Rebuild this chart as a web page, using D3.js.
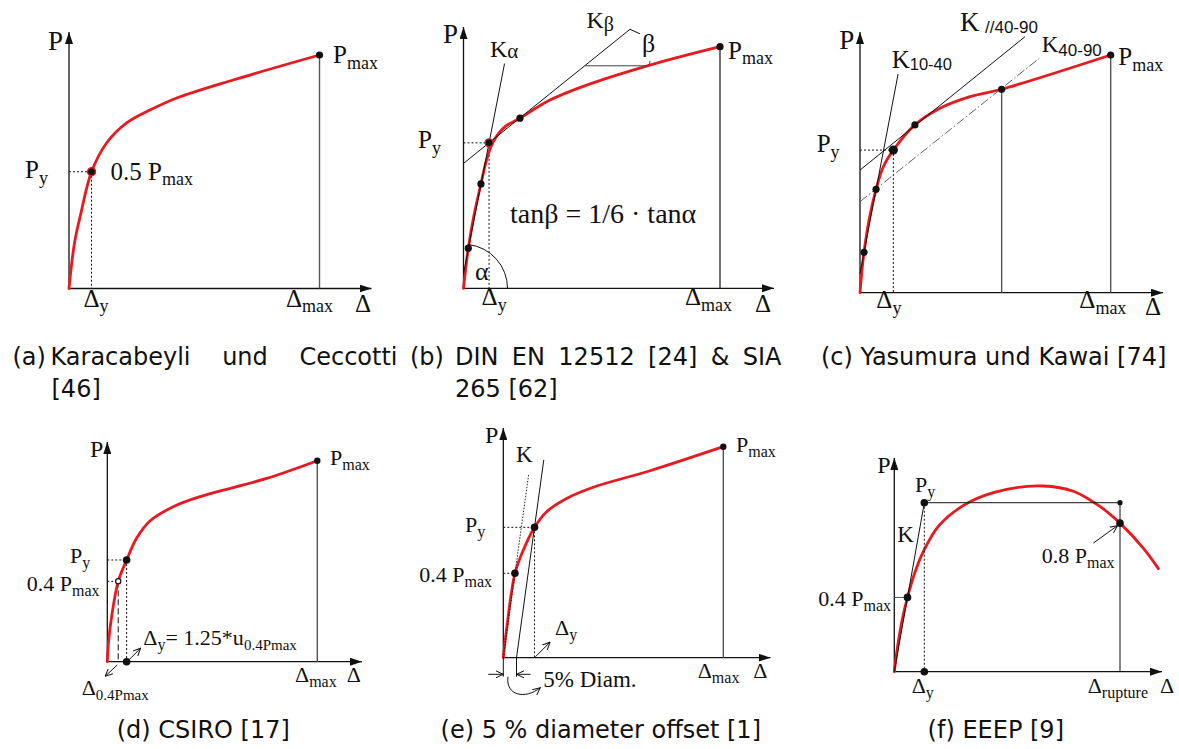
<!DOCTYPE html>
<html>
<head>
<meta charset="utf-8">
<script src="https://cdn.jsdelivr.net/npm/d3@7"></script>
<style>
  body { margin: 0; background: #fff; }
  svg { display: block; }
</style>
</head>
<body>
<svg id="fig" width="1179" height="749"></svg>
<script>
// Load–slip curves, values normalised: x = Δ / Δref, y = P / Pmax

// (a) Karacabeyli & Ceccotti
const curveA = [[0,0],[0.011,0.11],[0.024,0.208],[0.044,0.306],[0.09,0.5],[0.15,0.623],[0.23,0.709],[0.323,0.764],[0.43,0.816],[0.655,0.893],[1,1]];
const yieldA = [0.09, 0.5];
const maxA = [1, 1];

// (b) DIN EN 12512 / SIA 265
const curveB = [[0,0],[0.008,0.076],[0.0187,0.166],[0.041,0.303],[0.068,0.432],[0.09,0.531],[0.116,0.607],[0.162,0.669],[0.22,0.704],[0.337,0.779],[0.48,0.841],[0.727,0.924],[1,1]];
const kAlphaB = [[0,0.06],[0.16,0.93]];
const kBetaB = [[0,0.517],[0.649,1.072]];
const betaRefB = [[0.473,0.921],[0.719,0.921]];
const dotsB = [[0.0187,0.166],[0.068,0.432],[0.22,0.704],[1,1]];
const yieldB = [0.0997, 0.602];
const maxB = [1, 1];

// (c) Yasumura & Kawai
const curveC = [[0,0],[0.006,0.074],[0.016,0.17],[0.036,0.306],[0.064,0.435],[0.093,0.53],[0.133,0.6],[0.219,0.706],[0.319,0.776],[0.439,0.825],[0.565,0.856],[1,1]];
const k1040C = [[0,0.08],[0.152,0.92]];
const kParC = [[0,0.516],[0.658,1.077]];
const k4090C = [[0,0.383],[0.715,0.986]];
const dotsC = [[0.016,0.17],[0.064,0.435],[0.219,0.706],[0.565,0.856],[1,1]];
const yieldC = [0.133, 0.6];
const maxC = [1, 1];

// (d) CSIRO
const curveD = [[0,0],[0.006,0.1],[0.02,0.22],[0.052,0.4],[0.092,0.506],[0.14,0.615],[0.203,0.7],[0.314,0.771],[0.441,0.821],[0.759,0.912],[1,1]];
const p04D = [0.052, 0.4];
const yieldD = [0.092, 0.506];
const maxD = [1, 1];

// (e) 5 % diameter offset
const curveE = [[0,0],[0.0155,0.14],[0.053,0.4],[0.091,0.51],[0.142,0.618],[0.197,0.692],[0.288,0.755],[0.409,0.808],[0.667,0.886],[1,1]];
const kE = [[0,0],[0.115,0.866]];
const offsetE = [[0.06,0],[0.184,0.937]];
const p04E = [0.053, 0.4];
const yieldE = [0.142, 0.618];
const maxE = [1, 1];

// (f) EEEP (x relative to Δrupture)
const curveF = [[0,0],[0.015,0.14],[0.035,0.28],[0.0585,0.4],[0.09,0.53],[0.128,0.645],[0.2,0.79],[0.335,0.915],[0.498,0.982],[0.66,1.0],[0.793,0.972],[0.911,0.89],[1.0,0.8],[1.103,0.665],[1.17,0.555]];
const eeepF = [[0,0],[0.133,0.91],[1,0.91]];
const p04F = [0.0585, 0.4];
const p08F = [1, 0.8];

// captions
const captionA = ["(a)", "Karacabeyli und Ceccotti", "[46]"];
const captionB = ["(b)", "DIN EN 12512 [24] & SIA", "265 [62]"];
const captionC = ["(c) Yasumura und Kawai [74]"];
const captionD = ["(d) CSIRO [17]"];
const captionE = ["(e) 5 % diameter offset [1]"];
const captionF = ["(f) EEEP [9]"];

// ---------------------------------------------------------------
const SERIF = "'Liberation Serif','Times New Roman',serif";
const SANS = "'Liberation Sans',Arial,sans-serif";
const CAP = "'DejaVu Sans',sans-serif";
const RED = "#e8191f";
const INK = "#111";

const svg = d3.select("#fig");
const defs = svg.append("defs");
defs.append("marker").attr("id", "axArrow").attr("viewBox", "0 0 12 8")
  .attr("refX", 12).attr("refY", 4).attr("markerWidth", 12).attr("markerHeight", 8)
  .attr("markerUnits", "userSpaceOnUse").attr("orient", "auto")
  .append("path").attr("d", "M0,0L12,4L0,8Z").attr("fill", INK);
defs.append("marker").attr("id", "openArrow").attr("viewBox", "0 0 8 8")
  .attr("refX", 7.5).attr("refY", 4).attr("markerWidth", 8).attr("markerHeight", 8)
  .attr("markerUnits", "userSpaceOnUse").attr("orient", "auto")
  .append("path").attr("d", "M0,0.5L7.5,4L0,7.5").attr("fill", "none")
  .attr("stroke", INK).attr("stroke-width", 1);

const layout = {
  a: {x0: 69,    x1: 319.5,  y0: 288.5, y1: 55,    xEnd: 371.5, yEnd: 32},
  b: {x0: 463.5, x1: 720,    y0: 288.3, y1: 46.7,  xEnd: 774,   yEnd: 27},
  c: {x0: 860,   x1: 1110.7, y0: 292.7, y1: 55,    xEnd: 1163,  yEnd: 32},
  d: {x0: 107.3, x1: 317.3,  y0: 661.7, y1: 460.7, xEnd: 362,   yEnd: 442},
  e: {x0: 503.3, x1: 723.3,  y0: 657.7, y1: 446.7, xEnd: 770.5, yEnd: 428},
  f: {x0: 894.3, x1: 1120,   y0: 671.7, y1: 486,   xEnd: 1162,  yEnd: 458}
};

const STYLES = {
  thin:    {stroke: INK, "stroke-width": 1},
  drop:    {stroke: "#555", "stroke-width": 1.4},
  grey:    {stroke: "#555", "stroke-width": 1},
  dot:     {stroke: INK, "stroke-width": 1, "stroke-dasharray": "2,2"},
  dash:    {stroke: INK, "stroke-width": 1, "stroke-dasharray": "6,3"},
  dashdot: {stroke: "#555", "stroke-width": 0.9, "stroke-dasharray": "9,2.5,1.5,2.5"},
  fine:    {stroke: INK, "stroke-width": 0.9, "stroke-dasharray": "1.5,1.5"}
};

function panel(key) {
  const L = layout[key];
  const g = svg.append("g").attr("class", "panel-" + key);
  const x = d3.scaleLinear().domain([0, 1]).range([L.x0, L.x1]);
  const y = d3.scaleLinear().domain([0, 1]).range([L.y0, L.y1]);
  g.append("line").attr("x1", x(0)).attr("y1", y(0)).attr("x2", L.xEnd).attr("y2", y(0))
    .attr("stroke", INK).attr("stroke-width", 1.3).attr("marker-end", "url(#axArrow)");
  g.append("line").attr("x1", x(0)).attr("y1", y(0)).attr("x2", x(0)).attr("y2", L.yEnd)
    .attr("stroke", INK).attr("stroke-width", 1.3).attr("marker-end", "url(#axArrow)");
  return {g, x, y};
}

function applyStyle(sel, name) {
  const s = STYLES[name];
  Object.keys(s).forEach(k => sel.attr(k, s[k]));
  return sel.attr("fill", "none");
}

function poly(P, pts, style) {
  const line = d3.line().x(d => P.x(d[0])).y(d => P.y(d[1]));
  return applyStyle(P.g.append("path").attr("d", line(pts)), style);
}

function curve(P, pts) {
  const line = d3.line().curve(d3.curveCatmullRom.alpha(0.5)).x(d => P.x(d[0])).y(d => P.y(d[1]));
  P.g.append("path").attr("d", line(pts)).attr("fill", "none")
    .attr("stroke", RED).attr("stroke-width", 2.8).attr("stroke-linecap", "round");
}

function dots(P, pts, r = 3.6) {
  P.g.selectAll(null).data(pts).join("circle")
    .attr("cx", d => P.x(d[0])).attr("cy", d => P.y(d[1])).attr("r", r).attr("fill", INK);
}

function ringDot(P, pt, r = 4) {
  P.g.append("circle").attr("cx", P.x(pt[0])).attr("cy", P.y(pt[1])).attr("r", r)
    .attr("fill", INK).attr("stroke", RED).attr("stroke-width", 1.4);
}

function arrow(g, x1, y1, x2, y2) {
  g.append("line").attr("x1", x1).attr("y1", y1).attr("x2", x2).attr("y2", y2)
    .attr("stroke", INK).attr("stroke-width", 1).attr("marker-end", "url(#openArrow)");
}

function label(g, x, y, parts, size, opts = {}) {
  const t = g.append("text").attr("x", x).attr("y", y)
    .attr("font-family", opts.family || SERIF).attr("font-size", size)
    .attr("text-anchor", opts.anchor || "start").attr("fill", INK);
  let shift = 0;
  parts.forEach(p => {
    const s = typeof p === "string" ? {t: p} : p;
    const ts = t.append("tspan").text(s.t);
    const want = s.sub ? (s.dy != null ? s.dy : size * 0.22) : 0;
    if (want !== shift) { ts.attr("dy", want - shift); shift = want; }
    if (s.sub) ts.attr("font-size", s.size || Math.round(size * 0.72));
    if (s.family) ts.attr("font-family", s.family);
    if (s.x != null) ts.attr("x", s.x);
  });
  return t;
}

// ---------------- (a) ----------------
const A = panel("a");
poly(A, [[0, yieldA[1]], yieldA], "dot");
poly(A, [yieldA, [yieldA[0], 0]], "dot");
poly(A, [maxA, [maxA[0], 0]], "drop");
curve(A, curveA);
ringDot(A, yieldA);
dots(A, [maxA]);
label(A.g, 48, 50, ["P"], 27);
label(A.g, A.x(maxA[0]) + 13.5, A.y(maxA[1]) + 8, ["P", {t: "max", sub: true}], 25);
label(A.g, 25, A.y(yieldA[1]) + 6.5, ["P", {t: "y", sub: true}], 25);
label(A.g, A.x(yieldA[0]) + 19, A.y(yieldA[1]) + 8, [yieldA[1] + " P", {t: "max", sub: true}], 25);
label(A.g, A.x(yieldA[0]) - 8, 306.7, ["Δ", {t: "y", sub: true}], 25);
label(A.g, A.x(maxA[0]) - 33.5, 306.7, ["Δ", {t: "max", sub: true}], 25);
label(A.g, 355, 311.7, ["Δ"], 25);

// ---------------- (b) ----------------
const B = panel("b");
poly(B, [[0, yieldB[1]], yieldB], "dot");
poly(B, [yieldB, [yieldB[0], 0]], "dot");
poly(B, [maxB, [maxB[0], 0]], "thin").attr("stroke-width", 1.2);
curve(B, curveB);
poly(B, kAlphaB, "thin");
poly(B, kBetaB, "thin");
poly(B, betaRefB, "thin").attr("stroke", "#444");
{
  // small hooks closing the β angle mark
  const top = kBetaB[1], end = betaRefB[1];
  B.g.append("path")
    .attr("d", `M${B.x(top[0])},${B.y(top[1])} L${B.x(top[0]) + 10},${B.y(top[1]) + 4.5}`)
    .attr("fill", "none").attr("stroke", INK).attr("stroke-width", 1);
  B.g.append("path")
    .attr("d", `M${B.x(end[0])},${B.y(end[1])} Q${B.x(end[0]) + 2.5},${B.y(end[1]) - 1} ${B.x(end[0]) + 2},${B.y(end[1]) - 5}`)
    .attr("fill", "none").attr("stroke", "#444").attr("stroke-width", 1);
  // α arc at the origin
  const p = d3.path();
  const r = 44;
  p.moveTo(B.x(0) + r, B.y(0));
  p.arc(B.x(0), B.y(0), r, 0, -(Math.PI / 2 - 0.12), true);
  B.g.append("path").attr("d", p.toString()).attr("fill", "none").attr("stroke", INK).attr("stroke-width", 1);
}
dots(B, dotsB);
ringDot(B, yieldB);
label(B.g, 443, 43, ["P"], 27);
label(B.g, 490, 57, ["K", {t: "α", sub: true, size: 21, dy: 1}], 24);
label(B.g, 586.5, 28, ["K", {t: "β", sub: true, size: 20, dy: 3}], 24);
label(B.g, 642, 52, ["β"], 26);
label(B.g, B.x(maxB[0]) + 8, B.y(maxB[1]) + 12, ["P", {t: "max", sub: true}], 25);
label(B.g, 418, B.y(yieldB[1]) + 5.5, ["P", {t: "y", sub: true}], 25);
label(B.g, 510, 222.7, ["tanβ = 1/6 · tanα"], 28);
label(B.g, 475, 280, ["α"], 26);
label(B.g, B.x(yieldB[0]) - 7.5, 305, ["Δ", {t: "y", sub: true}], 25);
label(B.g, B.x(maxB[0]) - 35, 305, ["Δ", {t: "max", sub: true}], 25);
label(B.g, 755, 311.7, ["Δ"], 25);

// ---------------- (c) ----------------
const C = panel("c");
poly(C, [[0, yieldC[1]], yieldC], "dot");
poly(C, [yieldC, [yieldC[0], 0]], "dot");
poly(C, [dotsC[3], [dotsC[3][0], 0]], "drop");
poly(C, [maxC, [maxC[0], 0]], "drop");
curve(C, curveC);
poly(C, k1040C, "thin");
poly(C, kParC, "thin");
poly(C, k4090C, "dashdot");
dots(C, dotsC);
dots(C, [yieldC], 4.6);
label(C.g, 839.3, 49.3, ["P"], 27);
label(C.g, 891.7, 68.3, ["K", {t: "10-40", sub: true, size: 16.5, dy: 2, family: SANS}], 25);
label(C.g, 960, 30.7, ["K", {t: "//40-90", sub: true, size: 17, dy: 2.6, family: SANS, x: 985}], 27);
label(C.g, 1041.7, 51.7, ["K", {t: "40-90", sub: true, size: 17, dy: 4, family: SANS}], 23);
label(C.g, C.x(maxC[0]) + 7.6, C.y(maxC[1]) + 10, ["P", {t: "max", sub: true}], 25);
label(C.g, 816.7, C.y(yieldC[1]) + 2, ["P", {t: "y", sub: true}], 25);
label(C.g, C.x(yieldC[0]) - 17, 308.3, ["Δ", {t: "y", sub: true}], 25);
label(C.g, C.x(maxC[0]) - 31.4, 308.3, ["Δ", {t: "max", sub: true}], 25);
label(C.g, 1145, 315, ["Δ"], 25);

// ---------------- (d) ----------------
const D = panel("d");
poly(D, [[0, yieldD[1]], yieldD], "dot");
poly(D, [[0, p04D[1]], p04D], "dot");
poly(D, [yieldD, [yieldD[0], 0]], "dot");
poly(D, [p04D, [p04D[0], 0]], "dash");
poly(D, [maxD, [maxD[0], 0]], "drop");
curve(D, curveD);
dots(D, [yieldD, [yieldD[0], 0]], 3.8);
dots(D, [maxD], 3.2);
D.g.append("circle").attr("cx", D.x(p04D[0])).attr("cy", D.y(p04D[1])).attr("r", 2.6)
  .attr("fill", "#fff").attr("stroke", INK).attr("stroke-width", 1.2);
arrow(D.g, D.x(p04D[0]) - 1, D.y(0) + 3.3, D.x(p04D[0]) - 13, D.y(0) + 14.5);
arrow(D.g, D.x(yieldD[0]) + 2, D.y(0) - 1.5, D.x(yieldD[0]) + 14, D.y(0) - 13.5);
label(D.g, 90, 456.7, ["P"], 24);
label(D.g, D.x(maxD[0]) + 12.7, D.y(maxD[1]) + 4.5, ["P", {t: "max", sub: true, size: 16}], 22);
label(D.g, 70, D.y(yieldD[1]) + 3, ["P", {t: "y", sub: true, size: 16}], 22);
label(D.g, 26.7, D.y(p04D[1]) + 10, [p04D[1] + " P", {t: "max", sub: true, size: 16}], 22);
label(D.g, 143.3, 645, ["Δ", {t: "y", sub: true, size: 16}, "= 1.25*u", {t: "0.4Pmax", sub: true, size: 15}], 22);
label(D.g, 81.7, 695, ["Δ", {t: "0.4Pmax", sub: true, size: 15}], 22);
label(D.g, D.x(maxD[0]) - 22.3, 681.7, ["Δ", {t: "max", sub: true, size: 16}], 22);
label(D.g, 346.7, 681.7, ["Δ"], 22);

// ---------------- (e) ----------------
const E = panel("e");
poly(E, [[0, yieldE[1]], yieldE], "dot");
poly(E, [[0, p04E[1]], p04E], "dot");
poly(E, [yieldE, [yieldE[0], 0]], "dot");
poly(E, [maxE, [maxE[0], 0]], "drop");
curve(E, curveE);
poly(E, kE, "fine");
poly(E, offsetE, "thin");
dots(E, [yieldE, p04E], 3.8);
dots(E, [maxE], 3.2);
{
  const x0 = E.x(0), xo = E.x(offsetE[0][0]), y0 = E.y(0);
  E.g.append("line").attr("x1", x0).attr("y1", y0).attr("x2", x0).attr("y2", y0 + 19)
    .attr("stroke", INK).attr("stroke-width", 1);
  E.g.append("line").attr("x1", xo).attr("y1", y0).attr("x2", xo).attr("y2", y0 + 19)
    .attr("stroke", INK).attr("stroke-width", 1);
  arrow(E.g, x0 - 15, y0 + 16.6, x0, y0 + 16.6);
  arrow(E.g, xo + 14, y0 + 16.6, xo, y0 + 16.6);
  E.g.append("path")
    .attr("d", `M${x0 + 4.7},${y0 + 19} C${x0 + 2},${y0 + 38} ${x0 + 22},${y0 + 42} ${x0 + 37},${y0 + 30}`)
    .attr("fill", "none").attr("stroke", INK).attr("stroke-width", 1).attr("marker-end", "url(#openArrow)");
  arrow(E.g, E.x(yieldE[0]) + 1, y0 - 1, E.x(yieldE[0]) + 15.5, y0 - 15.5);
}
label(E.g, 485, 443.3, ["P"], 24);
label(E.g, 516, 461.7, ["K"], 23);
label(E.g, E.x(maxE[0]) + 12.7, E.y(maxE[1]) + 5, ["P", {t: "max", sub: true, size: 16}], 22);
label(E.g, 465, E.y(yieldE[1]) + 4.4, ["P", {t: "y", sub: true, size: 16}], 22);
label(E.g, 419.3, E.y(p04E[1]) + 8.4, [p04E[1] + " P", {t: "max", sub: true, size: 16}], 22);
label(E.g, 555, 635, ["Δ", {t: "y", sub: true, size: 16}], 22);
label(E.g, 543.3, 686.7, ["5% Diam."], 23);
label(E.g, E.x(maxE[0]) - 25.6, 678.3, ["Δ", {t: "max", sub: true, size: 16}], 22);
label(E.g, 753.3, 678.3, ["Δ"], 22);

// ---------------- (f) ----------------
const F = panel("f");
poly(F, [[0, p04F[1]], p04F], "grey");
curve(F, curveF);
poly(F, eeepF, "thin");
poly(F, [eeepF[2], [eeepF[2][0], 0]], "thin");
poly(F, [eeepF[1], [eeepF[1][0], 0]], "dot");
dots(F, [p04F, eeepF[1], [eeepF[1][0], 0], p08F], 3.8);
dots(F, [eeepF[2]], 2.6);
arrow(F.g, F.x(p08F[0]) - 26.7, F.y(p08F[1]) + 20, F.x(p08F[0]) - 2.5, F.y(p08F[1]) + 2.5);
label(F.g, 877.3, 472.7, ["P"], 24);
label(F.g, 915, F.y(eeepF[1][1]) - 11, ["P", {t: "y", sub: true, size: 16}], 22);
label(F.g, 897.3, 541.7, ["K"], 23);
label(F.g, 818.3, F.y(p04F[1]) + 9, [p04F[1] + " P", {t: "max", sub: true, size: 16}], 22);
label(F.g, 1041.7, F.y(p08F[1]) + 40, [p08F[1] + " P", {t: "max", sub: true, size: 16}], 22);
label(F.g, F.x(eeepF[1][0]) - 12.6, 693.3, ["Δ", {t: "y", sub: true, size: 16}], 22);
label(F.g, F.x(1) - 32.3, 693.3, ["Δ", {t: "rupture", sub: true, size: 16}], 22);
label(F.g, 1160, 693.3, ["Δ"], 22);

// ---------------- captions ----------------
const capG = svg.append("g").attr("class", "captions");
function capText(txt, x, y, anchor = "start") {
  return capG.append("text").attr("x", x).attr("y", y).attr("font-family", CAP)
    .attr("font-size", 24).attr("fill", INK).attr("text-anchor", anchor).text(txt);
}
function justify(txt, xL, xR, y) {
  const words = txt.split(" ");
  const nodes = words.map(w => capText(w, 0, y));
  const widths = nodes.map(n => n.node().getComputedTextLength());
  const gap = (xR - xL - d3.sum(widths)) / Math.max(1, words.length - 1);
  let cx = xL;
  nodes.forEach((n, i) => { n.attr("x", cx); cx += widths[i] + gap; });
}
capText(captionA[0], 12.5, 365);
justify(captionA[1], 50.5, 397.5, 365);
capText(captionA[2], 51.5, 397);
capText(captionB[0], 410, 365);
justify(captionB[1], 455, 781.5, 365);
capText(captionB[2], 455, 397);
capText(captionC[0], 821, 365);
capText(captionD[0], 203.3, 738, "middle");
capText(captionE[0], 600.8, 738, "middle");
capText(captionF[0], 995.8, 738, "middle");
</script>
</body>
</html>
